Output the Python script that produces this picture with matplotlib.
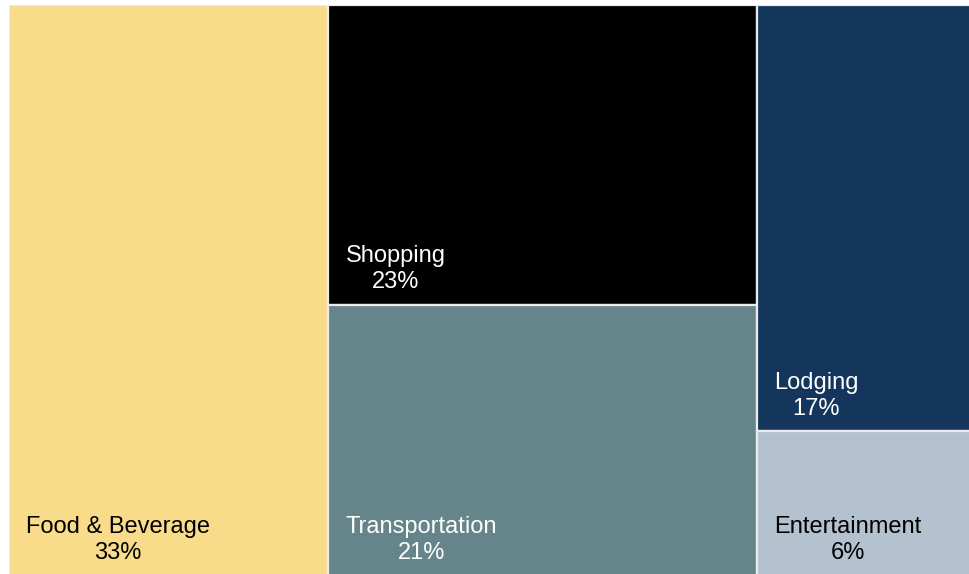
import matplotlib.pyplot as plt
from matplotlib.patches import Rectangle

# spending categories, treemap laid out column by column
categories = ["Food & Beverage", "Shopping", "Transportation", "Lodging", "Entertainment"]
shares = [33.2, 23.4, 21.1, 16.6, 5.6]
columns = [[0], [1, 2], [3, 4]]
colors = ["#F9DC8A", "#000000", "#66858A", "#14355C", "#B4C1CE"]
text_colors = ["black", "white", "white", "white", "black"]

plt.rcParams['font.family'] = ['Liberation Sans', 'DejaVu Sans']

fig = plt.figure(figsize=(9.69, 5.74), dpi=100)
ax = fig.add_axes([8.5 / 969, -1.5 / 574, 962 / 969, 571 / 574])

total = sum(shares)
x = 0
for col in columns:
    col_sum = sum(shares[i] for i in col)
    y_top = 1.0
    for i in col:
        h = shares[i] / col_sum
        y0 = y_top - h
        ax.add_patch(Rectangle((x, y0), col_sum, h, facecolor=colors[i],
                               edgecolor="#ECECEC", linewidth=1.6))
        ax.annotate(f"{categories[i]}\n{shares[i]:.0f}%", xy=(x, y0),
                    xytext=(12.5, 8.5), textcoords="offset points",
                    ha="left", va="bottom", multialignment="center",
                    fontsize=17, color=text_colors[i], linespacing=1.22)
        y_top = y0
    x += col_sum

ax.set_xlim(0, total)
ax.set_ylim(0, 1)
ax.axis("off")

fig.savefig("out.png", dpi=100)
